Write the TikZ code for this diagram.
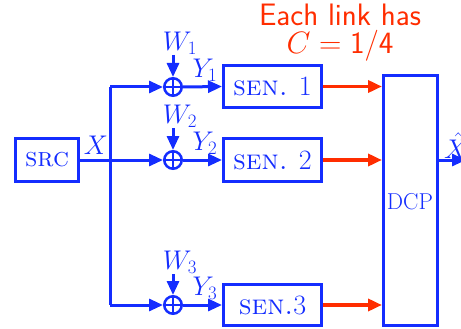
\RequirePackage{fix-cm}
\documentclass[tikz,border=0pt]{standalone}
\usepackage{fontspec}
\usetikzlibrary{arrows.meta}
\definecolor{sblue}{RGB}{20,45,255}
\definecolor{sred}{RGB}{255,45,0}
\tikzset{
  blk/.style={draw=sblue, line width=3pt, inner sep=0pt, text=sblue},
  sentext/.style={font=\fontsize{28}{30}\selectfont},
  adder/.style={circle, draw=sblue, line width=2.5pt, minimum size=17.5pt, inner sep=0pt,
    path picture={\draw[sblue, line width=2.6pt] (path picture bounding box.north) -- (path picture bounding box.south)
      (path picture bounding box.west) -- (path picture bounding box.east);}},
  bl/.style={draw=sblue, line width=3pt},
  arr/.style={bl, -{Triangle[length=14pt,width=12pt]}},
  rarr/.style={draw=sred, line width=3.5pt, -{Triangle[length=14pt,width=12pt]}},
  mlab/.style={text=sblue, inner sep=0pt, font=\fontsize{27}{29}\selectfont},
}
\begin{document}
\begin{tikzpicture}[x=1pt,y=-1pt]
\useasboundingbox (0,0) rectangle (461,329);
% source
\node[blk, minimum width=63pt, minimum height=43pt, font=\fontsize{27}{29}\selectfont] (src) at (47,160) {\textsc{src}};
\coordinate (jt) at (110,87);
\coordinate (jm) at (110,160);
\coordinate (jb) at (110,305);
% adders
\node[adder] (s1) at (173,87) {};
\node[adder] (s2) at (173,160) {};
\node[adder] (s3) at (173,305) {};
% sensors
\node[blk, sentext, minimum width=98pt, minimum height=42pt] (sen1) at (272.5,86.5) {\textsc{sen.} 1};
\node[blk, sentext, minimum width=98pt, minimum height=43pt] (sen2) at (272.5,160) {\textsc{sen.} 2};
\node[blk, sentext, minimum width=98pt, minimum height=41pt] (sen3) at (272.5,305) {\textsc{sen.}3};
% DCP
\node[blk, minimum width=54pt, minimum height=250pt] (dcp) at (410.5,200.5) {};
\node[text=sblue, inner sep=0pt, font=\fontsize{23}{25}\selectfont] (dcpl) at (410,202) {DCP};
% noise labels
\node[mlab] (w1) at (180,43) {$W_1$};
\node[mlab] (w2) at (180,116) {$W_2$};
\node[mlab] (w3) at (180,262) {$W_3$};
\coordinate (w1e) at (173,55);
\coordinate (w2e) at (173,128);
\coordinate (w3e) at (173,274);
\node[mlab] (y1) at (205,70) {$Y_1$};
\node[mlab] (y2) at (205,143) {$Y_2$};
\node[mlab] (y3) at (205,288) {$Y_3$};
\node[mlab] (x) at (96,145) {$X$};
\node[mlab, anchor=west] (xh) at (444,146) {$\hat{X}$};
\coordinate (out) at (466,160);
% red text
\node[text=sred, align=center, inner sep=0pt, font=\fontsize{31}{28}\selectfont\sffamily] (note) at (340,33)
  {Each link has\\ $C = \mathsf{1/4}$};
% connectors
\draw[bl] (src.east) -- (jm);
\draw[bl] (jt) -- (jb);
\draw[arr] (jt) -- (s1.west);
\draw[arr] (jm) -- (s2.west);
\draw[arr] (jb) -- (s3.west);
\draw[arr] (w1e) -- (s1.north);
\draw[arr] (w2e) -- (s2.north);
\draw[arr] (w3e) -- (s3.north);
\draw[arr] (s1.east) -- (sen1.west);
\draw[arr] (s2.east) -- (sen2.west);
\draw[arr] (s3.east) -- (sen3.west);
\draw[rarr] (sen1.east) -- (sen1.east -| dcp.west);
\draw[rarr] (sen2.east) -- (sen2.east -| dcp.west);
\draw[rarr] (sen3.east) -- (sen3.east -| dcp.west);
\draw[arr] (dcp.east |- out) -- (out);
\end{tikzpicture}
\end{document}
